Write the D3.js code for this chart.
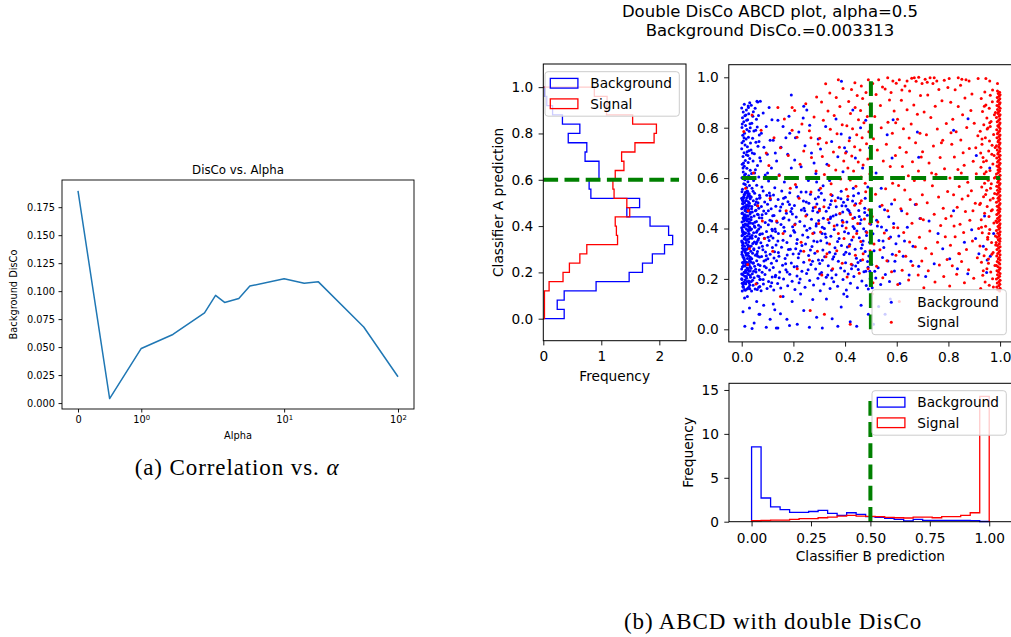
<!DOCTYPE html>
<html><head><meta charset="utf-8">
<script src="https://cdn.jsdelivr.net/npm/d3@7"></script>
<style>
body{margin:0;background:#fff}
svg text{fill:#000}
</style>
</head><body>
<svg id="fig" width="1011" height="637" font-family="DejaVu Sans"></svg>
<script>
// ---------------- data ----------------
// (a) background DisCo against the regularisation strength alpha
const alphaValues = [0, 0.5, 1, 1.5, 2, 2.5, 3, 4, 5, 10, 15, 20, 50, 100];
const discoValues = [0.1895, 0.004, 0.0488, 0.0613, 0.0806, 0.0962, 0.0899, 0.0935, 0.1045, 0.1110, 0.1070, 0.1083, 0.0680, 0.0235];
const alphaTicks = [0, 1, 10, 100];
const alphaTickBase = ["0", "10", "10", "10"];
const alphaTickExp = ["", "0", "1", "2"];
const discoTicks = [0, 0.025, 0.05, 0.075, 0.1, 0.125, 0.15, 0.175];

// (b) classifier A histogram (density, 25 bins over [0,1])
const binEdges = [0,0.04,0.08,0.12,0.16,0.2,0.24,0.28,0.32,0.36,0.4,0.44,0.48,0.52,0.56,0.6,0.64,0.68,0.72,0.76,0.8,0.84,0.88,0.92,0.96,1];
const histA_bg  = [0.36,0.24,0.36,0.91,1.48,1.71,1.88,2.09,2.23,2.16,1.84,1.44,1.66,0.82,0.79,0.96,0.96,0.72,0.75,0.43,0.63,0.33,0.16,0.06,0.03];
const histA_sig = [0.02,0.02,0.02,0.10,0.34,0.45,0.63,0.75,1.28,1.26,1.24,1.49,1.44,1.22,1.20,1.24,1.39,1.35,1.58,1.91,1.95,1.54,1.09,1.10,0.88];
// classifier B histogram (density, 25 bins over [0,1])
const histB_bg  = [8.52,2.70,1.68,1.38,1.06,1.06,1.16,1.28,0.95,0.72,1.02,0.83,0.57,0.49,0.38,0.27,0.08,0.27,0.15,0.15,0.15,0.15,0.15,0.13,0.02];
const histB_sig = [0.11,0.15,0.19,0.19,0.27,0.34,0.34,0.45,0.53,0.64,0.72,0.64,0.60,0.57,0.49,0.45,0.42,0.53,0.53,0.45,0.57,0.57,0.72,1.02,14.28];

const cutA = 0.6, cutB = 0.5;
const cutALineEnd = 2.34, cutBLineEnd = 14.3;
const freqTicksA = [0, 1, 2];
const freqTicksB = [0, 5, 10, 15];
const predTicks = [0, 0.2, 0.4, 0.6, 0.8, 1.0];
const predTicksB = [0, 0.25, 0.5, 0.75, 1.0];

// scatter: [classifier B, classifier A] in thousandths
const bgPoints = [
[2,152],[11,158],[24,163],[5,171],[31,176],[16,181],[8,187],[27,192],[1,198],[19,203],[34,207],[12,211],[4,216],[23,221],[9,226],[29,230],[15,234],[0,239],[21,243],[33,247],[7,252],[18,256],[26,261],[3,265],[13,269],[32,273],[10,277],[22,281],[6,286],[28,290],[17,294],[1,298],[25,302],[14,306],[35,310],[8,314],[20,318],[3,322],[30,326],[11,330],[24,334],[5,338],[16,342],[27,346],[0,350],[19,354],[9,358],[33,362],[13,366],[22,370],[4,374],[29,378],[15,382],[7,386],[26,390],[2,394],[18,398],[31,402],[10,406],[23,410],[6,414],[14,418],[34,422],[1,426],[21,430],[12,434],[28,438],[5,442],[17,446],[25,450],[9,454],[32,458],[3,462],[20,466],[13,470],[27,474],[0,478],[16,482],[8,486],[30,490],[22,494],[4,498],[11,502],[26,506],[15,510],[2,514],[33,518],[19,522],[7,526],[24,530],[10,534],[29,538],[14,542],[1,546],[21,549],
[14,155],[28,168],[6,179],[20,190],[0,201],[33,213],[12,224],[25,236],[3,248],[17,259],[30,271],[9,283],[22,295],[1,307],[15,319],[27,331],[5,343],[19,355],[32,367],[11,379],[24,391],[0,403],[16,415],[29,427],[7,439],[21,451],[34,463],[13,475],[26,487],[4,499],[18,511],[31,523],[10,535],[23,547],[2,183],[26,217],[12,251],[34,285],[7,319],[18,353],[3,387],[28,421],[13,455],[20,489],[8,523],[31,161],[17,228],[6,262],[23,336],[1,371],[30,406],[11,441],[25,476],[4,509],[15,544],
[6,167],[29,185],[13,196],[0,219],[24,241],[9,268],[31,279],[17,300],[3,333],[26,357],[12,362],[34,394],[7,409],[20,437],[1,460],[28,468],[16,491],[5,517],[23,539],[11,185],[33,232],[19,266],[2,345],[27,380],[8,430],[14,470],[30,500],[21,160],[4,292],[25,325],[10,447],[32,529],[18,210],[6,380],[22,415],[0,520],[29,255],[13,313],[3,482],[26,395],
[3,556],[19,563],[30,571],[8,578],[24,586],[12,593],[1,601],[27,609],[15,616],[6,624],[33,631],[20,639],[10,647],[2,655],[25,662],[14,670],[31,678],[5,686],[18,693],[9,701],[28,709],[0,716],[22,724],[13,731],[34,739],[7,747],[17,755],[26,762],[4,770],[11,778],[29,786],[20,793],[1,801],[15,809],[32,816],[8,824],[23,832],[3,839],[12,847],[27,855],[6,862],[18,870],[0,878],[25,886],[10,893],[31,899],[14,575],[5,640],[21,705],[9,760],[2,815],[28,600],[16,850],[24,690],[1,740],[33,800],[11,612],[19,830],[7,660],[26,880],
[38,152],[52,160],[66,167],[44,175],[59,183],[37,190],[70,198],[48,205],[62,212],[41,220],[55,227],[68,235],[36,242],[50,250],[64,257],[45,264],[58,272],[39,280],[69,287],[53,294],[42,302],[61,309],[47,316],[67,324],[37,331],[56,339],[49,346],[63,353],[40,361],[54,368],[70,376],[46,383],[60,391],[38,398],[51,405],[65,413],[43,420],[57,428],[36,435],[68,443],[48,450],[61,457],[41,465],[55,472],[66,480],[39,487],[52,495],[63,502],[45,510],[58,517],[37,525],[69,532],[50,540],[44,548],[60,158],[42,195],[67,210],[54,238],[36,266],[62,290],[47,320],[58,345],[40,372],[66,398],[51,425],[64,455],[38,478],[56,505],[69,520],[46,230],[59,300],[43,340],[65,360],[49,410],[37,445],[53,470],[61,490],[70,170],[44,262],[57,385],
[40,560],[58,572],[46,590],[66,604],[38,618],[53,633],[61,650],[44,668],[70,681],[49,697],[36,712],[63,726],[55,742],[42,758],[68,771],[47,787],[60,803],[39,818],[57,834],[65,848],[45,863],[52,877],[37,889],[62,902],[50,620],[41,700],[67,745],[54,790],[43,845],[59,905],
[75,153],[98,162],[112,171],[84,180],[104,190],[72,199],[118,208],[90,217],[79,226],[108,235],[95,244],[71,253],[115,262],[86,271],[101,280],[77,289],[110,298],[92,307],[82,316],[119,325],[99,334],[74,343],[106,352],[88,361],[113,370],[80,379],[96,388],[117,397],[73,406],[103,415],[91,424],[109,433],[78,442],[120,451],[94,460],[85,469],[114,478],[76,487],[100,496],[89,505],[111,514],[71,523],[97,532],[107,541],[83,549],[116,185],[93,275],[102,365],[79,455],[110,530],
[78,565],[104,588],[91,612],[115,640],[73,668],[99,695],[86,722],[110,750],[76,778],[95,805],[117,832],[83,858],[106,880],[72,905],[100,620],
[12,12],[48,25],[30,85],[70,60],[95,8],[22,130],[58,110],[85,95],[40,3],[110,40],[5,70],[67,60],[134,5],[11,124],
[124,156],[151,164],[178,173],[139,182],[195,191],[162,200],[130,209],[186,218],[147,227],[171,236],[122,245],[158,254],[192,263],[135,272],[168,281],[144,290],[199,299],[127,308],[181,317],[154,326],[133,335],[175,344],[160,353],[121,362],[189,371],[142,380],[166,389],[129,398],[197,407],[152,416],[137,425],[183,434],[164,443],[125,452],[173,461],[148,470],[194,479],[132,488],[158,497],[179,506],[141,515],[169,524],[123,533],[186,542],[155,549],[145,205],[176,295],[131,388],[190,467],[162,520],
[128,562],[165,585],[145,613],[192,640],[135,668],[178,695],[152,722],[122,750],[186,778],[160,805],[140,830],[197,600],[171,760],[130,700],[183,845],[192,930],
[140,5],[175,40],[128,78],[195,110],[160,130],[150,62],[185,15],[122,100],
[206,158],[245,167],[278,176],[222,185],[263,194],[295,203],[214,212],[251,221],[233,230],[286,239],[203,248],[268,257],[240,266],[297,275],[219,284],[259,293],[283,302],[228,311],[209,320],[272,329],[247,338],[292,347],[215,356],[256,365],[236,374],[280,383],[201,392],[264,401],[243,410],[289,419],[225,428],[270,437],[211,446],[252,455],[294,464],[231,473],[277,482],[204,491],[260,500],[239,509],[285,518],[218,527],[266,536],[249,545],[299,553],[226,200],[274,270],[213,340],[288,410],[241,480],
[212,565],[258,590],[287,618],[230,645],[205,672],[270,700],[245,728],[296,755],[221,783],[263,810],[238,838],[280,660],[208,760],[252,870],[290,585],[240,885],
[215,20],[262,8],[240,75],[290,48],[275,118],[228,140],
[304,153],[342,162],[371,171],[318,180],[356,189],[392,198],[327,207],[365,216],[309,225],[348,234],[383,243],[335,252],[302,261],[374,270],[352,279],[321,288],[396,297],[340,306],[314,315],[361,324],[386,333],[330,342],[306,351],[377,360],[345,369],[323,378],[398,387],[358,396],[312,405],[369,414],[338,423],[389,432],[316,441],[354,450],[380,459],[327,468],[301,477],[366,486],[343,495],[394,504],[320,513],[373,522],[350,531],[308,540],[385,548],[333,215],[362,300],[311,380],[391,465],[347,510],
[315,570],[358,598],[392,625],[330,655],[372,685],[305,715],[348,745],[385,775],[325,805],[365,835],[340,590],[398,720],[386,984],
[312,5],[350,42],[385,88],[328,120],[372,12],[395,140],
[405,156],[448,165],[482,174],[421,183],[465,192],[497,201],[434,210],[412,219],[473,228],[451,237],[489,246],[428,255],[402,264],[460,273],[444,282],[492,291],[417,300],[478,309],[439,318],[409,327],[467,336],[495,345],[426,354],[455,363],[483,372],[413,381],[446,390],[472,399],[431,408],[499,417],[407,426],[462,435],[437,444],[486,453],[419,462],[453,471],[476,480],[403,489],[441,498],[490,160],[425,240],[470,350],[458,420],[415,470],[480,230],
[83,198],[131,214],[176,227],[214,249],[257,236],[302,219],[349,204],[398,231],[441,251],[487,269],[95,292],[142,305],[188,318],[233,333],[279,350],[326,365],[371,348],[418,337],[463,322],[72,378],[119,391],[163,405],[207,418],[252,393],[298,432],[344,446],[389,411],[436,400],[481,388],[103,470],[151,485],[196,458],[244,470],[291,497],[337,482],[384,518],[429,509],[476,463],[88,250],[125,283],[170,260],[221,300],[266,315],[312,274],[356,288],[403,306],[450,265],[496,230],[116,430],[160,440],[205,385],[250,505],[297,525],[343,440],[388,490],[433,530],[478,520],[80,330],[140,350],[185,495],[230,545],[275,470],[320,400],[365,455],[410,475],[455,448],[500,300],
[410,515],[452,540],[488,565],[425,600],[468,640],[440,680],[495,720],[418,760],[460,800],[480,830],[432,560],[405,705],[430,870],
[420,30],[462,95],[445,12],[490,60],[408,130],
[505,165],[538,178],[572,190],[519,204],[556,217],[591,231],[528,244],[503,258],[566,271],[545,285],[583,298],[512,312],[550,325],[597,339],[531,352],[576,366],[508,379],[560,393],[541,406],[588,420],[522,433],[569,447],[501,460],[553,474],[535,487],[580,497],[515,230],[547,350],[593,270],[525,410],
[586,832],[563,772],[582,680],[540,560],[520,620],[530,90],[575,120],[555,60],[510,20],
[612,182],[648,215],[685,250],[625,290],[663,330],[608,370],[641,405],[690,440],[619,470],[672,495],[655,270],[630,350],[621,598],[680,783],[685,683],
[712,210],[745,260],[778,320],[805,280],[835,240],[862,345],[890,395],[918,300],[940,450],[725,430],[760,380],[820,470],[875,220],[905,360],[950,275],[876,836],[908,690],[820,790],[960,640],[935,330],[962,290],[975,380],[948,225]
];
const sigPoints = [
[998,152],[991,157],[1000,163],[987,168],[995,173],[999,179],[989,184],[996,189],[1000,195],[986,200],[993,205],[998,211],[990,216],[1000,221],[994,227],[988,232],[997,237],[1000,243],[992,248],[986,253],[999,259],[995,264],[989,269],[1000,275],[993,280],[997,285],[987,291],[1000,296],[991,301],[996,307],[999,312],[988,317],[994,323],[1000,328],[990,333],[997,339],[985,344],[999,349],[993,355],[1000,360],[989,365],[996,371],[998,376],[991,381],[1000,387],[986,392],[995,397],[999,403],[992,408],[997,413],[1000,419],[988,424],[994,429],[999,435],[990,440],[996,445],[1000,451],[987,456],[993,461],[998,467],[991,472],[1000,477],[995,483],[989,488],[997,493],[1000,499],[986,504],[994,509],[999,515],[992,520],[996,525],[1000,531],[988,536],[993,541],[998,547],[990,552],[1000,557],[995,563],[987,568],[997,573],[1000,579],[991,584],[994,589],[999,595],[989,600],[996,605],[1000,611],[986,616],[993,621],[998,627],[992,632],[1000,637],[995,643],[988,648],[997,653],[1000,659],[990,664],[994,669],[999,675],[987,680],[996,685],[1000,691],[991,696],[993,701],[998,707],[989,712],[1000,717],[995,723],[986,728],[997,733],[1000,739],[992,744],[994,749],[999,755],[988,760],[996,765],[1000,771],[990,776],[993,781],[998,787],[987,792],[1000,797],[995,803],[991,808],[997,813],[1000,819],[989,824],[994,829],[999,835],[986,840],[996,845],[1000,851],[992,856],[993,861],[998,867],[990,872],[1000,877],[995,883],[988,888],[997,893],[1000,899],[991,904],[994,909],[999,915],[989,920],[996,925],[1000,931],[993,936],[998,941],[990,946],
[925,162],[958,175],[942,188],[971,201],[933,214],[964,227],[949,240],[980,253],[928,266],[955,279],[938,292],[973,305],[946,318],[922,331],[967,344],[952,357],[982,370],[931,383],[960,396],[944,409],[976,422],[927,435],[957,448],[940,461],[970,474],[950,487],[924,500],[962,513],[936,526],[979,539],[948,552],[929,565],[966,578],[954,591],[983,604],[939,617],[961,630],[926,643],[972,656],[947,669],[934,682],[968,695],[956,708],[981,721],[930,734],[959,747],[943,760],[975,773],[923,786],[953,799],[937,812],[965,825],[949,838],[978,851],[932,864],[958,877],[945,890],[970,903],[927,916],[962,929],[941,942],[974,168],[935,232],[968,298],[952,365],[984,430],[921,495],[963,560],[946,625],[977,690],[930,755],[960,820],[939,885],[971,950],[955,262],[983,335],[928,405],[966,470],[944,535],[978,600],[936,665],[969,730],[950,795],[982,860],[925,700],[957,380],[940,580],[973,520],[962,805],[945,995],[960,985],[990,975],
[805,172],[862,185],[898,203],[832,218],[878,236],[815,252],[851,269],[912,284],[840,301],[870,317],[808,334],[893,350],[826,367],[859,384],[917,400],[845,417],[883,433],[811,450],[866,467],[834,484],[904,500],[853,517],[820,534],[889,550],[842,567],[875,584],[806,600],[908,617],[837,634],[861,651],[896,667],[823,684],[857,701],[881,717],[813,734],[848,751],[914,768],[830,784],[871,801],[900,818],[817,834],[855,851],[887,868],[838,884],[809,901],[864,918],[891,934],[826,951],[847,968],[880,985],[915,995],[803,995],[868,990],[822,410],[895,470],[850,620],[810,780],[906,720],[843,300],[876,530],[838,998],[852,992],
[705,165],[748,188],[782,210],[722,232],[765,255],[795,277],[735,300],[712,322],[758,345],[788,367],[728,390],[770,412],[703,435],[745,457],[780,480],[718,502],[762,525],[797,547],[738,570],[708,592],[752,615],[785,637],[725,660],[768,682],[700,705],[742,727],[778,750],[715,772],[757,795],[792,817],[732,840],[706,862],[749,885],[775,907],[720,930],[763,952],[740,975],[710,992],[784,988],[729,998],[755,985],[798,960],[773,740],[735,620],[790,440],[745,998],[718,980],
[604,178],[646,196],[683,215],[621,234],[662,253],[697,271],[635,290],[610,309],[672,328],[650,346],[688,365],[627,384],[604,403],[659,421],[693,440],[640,459],[616,478],[676,496],[652,515],[699,534],[631,553],[607,571],[668,590],[645,609],[684,628],[622,646],[661,665],[695,684],[637,703],[612,721],[673,740],[648,759],[690,778],[626,796],[656,815],[603,834],[680,853],[640,871],[666,890],[618,909],[692,928],[650,946],[632,965],[675,984],[658,996],[610,990],[685,1000],[640,985],[698,975],[620,950],[668,998],
[508,185],[546,205],[580,228],[522,250],[562,272],[597,294],[535,316],[512,338],[570,360],[552,382],[588,404],[527,426],[505,448],[565,470],[543,492],[592,514],[518,536],[557,558],[584,580],[532,602],[503,624],[575,646],[548,668],[595,690],[525,712],[560,734],[510,756],[583,778],[540,800],[566,822],[515,844],[590,866],[537,888],[572,910],[520,932],[555,954],[598,976],[530,990],[565,998],[585,985],[545,962],[507,975],[578,940],[596,820],
[405,556],[442,568],[478,580],[420,592],[462,604],[496,616],[433,628],[411,640],[470,652],[451,664],[488,676],[426,688],[402,700],[458,712],[437,724],[483,736],[416,748],[466,760],[445,772],[492,784],[429,796],[407,808],[473,820],[452,832],[486,844],[421,856],[460,868],[439,880],[494,892],[414,904],[468,916],[447,928],[481,940],[425,952],[463,965],[438,978],[490,990],
[408,208],[455,222],[489,240],[424,258],[468,276],[440,294],[497,312],[416,330],[461,348],[432,366],[484,384],[404,402],[449,420],[475,438],[421,456],[492,474],[437,492],[463,510],[411,528],[480,546],[445,380],[470,300],[430,440],[458,500],[495,420],
[305,560],[346,578],[383,596],[320,614],[364,632],[337,650],[395,668],[312,686],[355,704],[378,722],[328,740],[302,758],[369,776],[343,794],[389,812],[316,830],[358,848],[334,866],[380,884],[309,902],[366,920],[341,938],[392,956],[325,974],[374,990],
[310,215],[352,240],[389,262],[326,288],[368,312],[340,338],[396,360],[305,386],[358,410],[334,436],[380,460],[318,486],[362,510],[345,535],[392,425],[301,470],[374,380],[330,300],
[208,575],[252,602],[288,628],[226,655],[270,682],[240,708],[296,735],[214,762],[262,788],[233,815],[280,842],[205,868],[248,895],[290,922],[268,760],
[215,240],[262,275],[293,310],[230,345],[275,380],[205,415],[248,450],[285,485],[222,520],[268,545],[240,310],[298,420],
[110,520],[145,610],[180,690],[125,760],[165,835],[195,880],[135,430],[172,470],[105,650],[150,720],[188,560],[120,310],[160,380],[195,790],[140,880],
[8,785],[25,470],[45,620],[62,490],[80,430],[95,700],[30,320],[55,180],[75,790],[15,560],[88,360],[40,850],[23,257],
[320,60],[420,20],[505,140],[265,75],[150,130],[610,110]
];

// ---------------- drawing ----------------
const svg = d3.select("#fig");
const FONT = "DejaVu Sans";
const SERIF = "'Liberation Serif', serif";

function styleAxis(g, size) {
  g.attr("font-family", FONT).attr("font-size", size);
  g.select(".domain").remove();
  g.selectAll(".tick line").attr("stroke", "#000").attr("stroke-width", 0.9);
  g.selectAll(".tick text").attr("fill", "#000");
}
function frame(x0, y0, x1, y1, w) {
  svg.append("rect").attr("x", x0).attr("y", y0).attr("width", x1 - x0).attr("height", y1 - y0)
    .attr("fill", "none").attr("stroke", "#000").attr("stroke-width", w);
}
function label(x, y, text, size, opts = {}) {
  const t = svg.append("text").attr("x", x).attr("y", y).attr("font-size", size)
    .attr("text-anchor", opts.anchor || "middle").text(text);
  if (opts.rotate) t.attr("transform", `rotate(-90,${x},${y})`);
  return t;
}

// ===== (a) DisCo vs. Alpha, symmetric-log x axis (linthresh 2) =====
const linthresh = 2, linscaleAdj = 1 / (1 - 1 / 10);
const symlog = v => v <= linthresh ? v * linscaleAdj : linthresh * (linscaleAdj + Math.log10(v / linthresh));
const A = {l: 62, r: 414, t: 180, b: 409};
const xa = d3.scaleLinear().domain([-0.281, 5.901]).range([A.l, A.r]);
const ya = d3.scaleLinear().domain([-0.0053, 0.1993]).range([A.b, A.t]);

svg.append("path")
  .datum(alphaValues.map((a, i) => [symlog(a), discoValues[i]]))
  .attr("fill", "none").attr("stroke", "#1f77b4").attr("stroke-width", 1.5).attr("stroke-linejoin", "round")
  .attr("d", d3.line().x(d => xa(d[0])).y(d => ya(d[1])));

svg.append("g").attr("transform", `translate(0,${A.b})`)
  .call(d3.axisBottom(xa).tickValues(alphaTicks.map(symlog)).tickSize(3.5).tickPadding(3.5)
    .tickFormat((d, i) => alphaTickBase[i]))
  .call(g => styleAxis(g, 9.8))
  .call(g => g.selectAll(".tick text").each(function (d, i) {
    if (alphaTickExp[i]) d3.select(this).append("tspan").attr("dy", "-0.45em").attr("font-size", "70%").text(alphaTickExp[i]);
  }));
svg.append("g").attr("transform", `translate(${A.l},0)`)
  .call(d3.axisLeft(ya).tickValues(discoTicks).tickSize(3.5).tickPadding(3.5).tickFormat(d3.format(".3f")))
  .call(g => styleAxis(g, 9.8));
frame(A.l, A.t, A.r, A.b, 0.9);
label((A.l + A.r) / 2, 174, "DisCo vs. Alpha", 11.8);
label((A.l + A.r) / 2, 439, "Alpha", 9.8);
label(17, (A.t + A.b) / 2, "Background DisCo", 9.8, {rotate: true});
const capA = svg.append("text").attr("x", 237).attr("y", 475).attr("text-anchor", "middle")
  .style("font-family", SERIF).style("letter-spacing", "0.9px").attr("font-size", 23);
capA.append("tspan").text("(a) Correlation vs. ");
capA.append("tspan").attr("font-style", "italic").text("\u03b1");

// ===== (b) ABCD panels =====
label(770, 17, "Double DisCo ABCD plot, alpha=0.5", 16.5);
label(770, 35.5, "Background DisCo.=0.003313", 16.5);

const BLUE = "#0000ff", RED = "#ff0000", GREEN = "#008000";
const TS = 13.7;
const dash = "14.8,6.4";

// --- classifier A histogram (horizontal) ---
const H = {l: 543.3, r: 686, t: 64, b: 340.7};
const xh = d3.scaleLinear().domain([0, 2.46]).range([H.l, H.r]);
const yh = d3.scaleLinear().domain([-0.095, 1.1]).range([H.b, H.t]);
function stepsH(vals) {
  const pts = [[0, binEdges[0]]];
  vals.forEach((v, i) => { pts.push([v, binEdges[i]], [v, binEdges[i + 1]]); });
  pts.push([0, binEdges[binEdges.length - 1]]);
  return pts;
}
const lineH = d3.line().x(d => xh(d[0])).y(d => yh(d[1]));
svg.append("path").datum(stepsH(histA_bg)).attr("d", lineH).attr("fill", "none").attr("stroke", BLUE).attr("stroke-width", 1.3);
svg.append("path").datum(stepsH(histA_sig)).attr("d", lineH).attr("fill", "none").attr("stroke", RED).attr("stroke-width", 1.3);
svg.append("path").datum([[0, cutA], [cutALineEnd, cutA]]).attr("d", lineH)
  .attr("fill", "none").attr("stroke", GREEN).attr("stroke-width", 4).attr("stroke-dasharray", dash);
svg.append("g").attr("transform", `translate(0,${H.b})`)
  .call(d3.axisBottom(xh).tickValues(freqTicksA).tickSize(4.7).tickPadding(5.4).tickFormat(d3.format("d")))
  .call(g => styleAxis(g, TS));
svg.append("g").attr("transform", `translate(${H.l},0)`)
  .call(d3.axisLeft(yh).tickValues(predTicks).tickSize(4.7).tickPadding(5.4).tickFormat(d3.format(".1f")))
  .call(g => styleAxis(g, TS));
frame(H.l, H.t, H.r, H.b, 1);
label((H.l + H.r) / 2, 381, "Frequency", TS);
label(503, (H.t + H.b) / 2, "Classifier A prediction", TS, {rotate: true});

// --- scatter ---
const S = {l: 728.8, r: 1013, t: 64.7, b: 341.9};
const xs = d3.scaleLinear().domain([-0.05, 1.05]).range([S.l, S.r]);
const ys = d3.scaleLinear().domain([-0.05, 1.05]).range([S.b, S.t]);
const scat = svg.append("g");
scat.selectAll("circle.bg").data(bgPoints).join("circle").attr("class", "bg")
  .attr("cx", d => xs(d[0] / 1000)).attr("cy", d => ys(d[1] / 1000)).attr("r", 1.5).attr("fill", BLUE);
scat.selectAll("circle.sig").data(sigPoints).join("circle").attr("class", "sig")
  .attr("cx", d => xs(d[0] / 1000)).attr("cy", d => ys(d[1] / 1000)).attr("r", 1.5).attr("fill", RED);
const lineS = d3.line().x(d => xs(d[0])).y(d => ys(d[1]));
svg.append("path").datum([[0, cutA], [1, cutA]]).attr("d", lineS)
  .attr("fill", "none").attr("stroke", GREEN).attr("stroke-width", 4).attr("stroke-dasharray", dash);
svg.append("path").datum([[cutB, 0], [cutB, 1]]).attr("d", lineS)
  .attr("fill", "none").attr("stroke", GREEN).attr("stroke-width", 4).attr("stroke-dasharray", dash);
svg.append("g").attr("transform", `translate(0,${S.b})`)
  .call(d3.axisBottom(xs).tickValues(predTicks).tickSize(4.7).tickPadding(5.4).tickFormat(d3.format(".1f")))
  .call(g => styleAxis(g, TS));
svg.append("g").attr("transform", `translate(${S.l},0)`)
  .call(d3.axisLeft(ys).tickValues(predTicks).tickSize(4.7).tickPadding(5.4).tickFormat(d3.format(".1f")))
  .call(g => styleAxis(g, TS));
frame(S.l, S.t, S.r, S.b, 1);

// --- classifier B histogram ---
const B = {l: 729, r: 1011.8, t: 383.3, b: 521.7};
const xb = d3.scaleLinear().domain([-0.095, 1.095]).range([B.l, B.r]);
const yb = d3.scaleLinear().domain([0, 15.76]).range([B.b, B.t]);
function stepsV(vals) {
  const pts = [[binEdges[0], 0]];
  vals.forEach((v, i) => { pts.push([binEdges[i], v], [binEdges[i + 1], v]); });
  pts.push([binEdges[binEdges.length - 1], 0]);
  return pts;
}
const lineB = d3.line().x(d => xb(d[0])).y(d => yb(d[1]));
svg.append("path").datum(stepsV(histB_bg)).attr("d", lineB).attr("fill", "none").attr("stroke", BLUE).attr("stroke-width", 1.3);
svg.append("path").datum(stepsV(histB_sig)).attr("d", lineB).attr("fill", "none").attr("stroke", RED).attr("stroke-width", 1.3);
svg.append("path").datum([[cutB, 0], [cutB, cutBLineEnd]]).attr("d", lineB)
  .attr("fill", "none").attr("stroke", GREEN).attr("stroke-width", 4).attr("stroke-dasharray", dash);
svg.append("g").attr("transform", `translate(0,${B.b})`)
  .call(d3.axisBottom(xb).tickValues(predTicksB).tickSize(4.7).tickPadding(6.4).tickFormat(d3.format(".2f")))
  .call(g => styleAxis(g, TS));
svg.append("g").attr("transform", `translate(${B.l},0)`)
  .call(d3.axisLeft(yb).tickValues(freqTicksB).tickSize(4.7).tickPadding(5.4).tickFormat(d3.format("d")))
  .call(g => styleAxis(g, TS));
frame(B.l, B.t, B.r, B.b, 1);
label((B.l + B.r) / 2, 561, "Classifier B prediction", TS);
label(693, (B.t + B.b) / 2, "Frequency", TS, {rotate: true});

// --- legends ---
function legendBox(x, y, w, h) {
  svg.append("rect").attr("x", x).attr("y", y).attr("width", w).attr("height", h).attr("rx", 3)
    .attr("fill", "#fff").attr("fill-opacity", 0.8).attr("stroke", "#cccccc").attr("stroke-width", 1);
}
const legendNames = ["Background", "Signal"];
const legendColors = [BLUE, RED];
function patchLegend(x, y) {
  legendBox(x, y, 134.3, 44.5);
  legendNames.forEach((n, i) => {
    const cy = y + 11.6 + i * 20.5;
    svg.append("rect").attr("x", x + 5.3).attr("y", cy - 4.9).attr("width", 27.6).attr("height", 9.7)
      .attr("fill", "none").attr("stroke", legendColors[i]).attr("stroke-width", 1.3);
    label(x + 45.3, cy + 5, n, TS, {anchor: "start"});
  });
}
patchLegend(545, 71.7);
patchLegend(872, 390.7);
legendBox(872, 289.7, 134.3, 45);
legendNames.forEach((n, i) => {
  const cy = 302.3 + i * 19.9;
  svg.append("circle").attr("cx", 891.3).attr("cy", cy).attr("r", 1.5).attr("fill", legendColors[i]);
  label(917.3, cy + 5, n, TS, {anchor: "start"});
});

svg.append("text").attr("x", 773).attr("y", 629).attr("text-anchor", "middle")
  .style("font-family", SERIF).style("letter-spacing", "0.9px").attr("font-size", 23)
  .text("(b) ABCD with double DisCo");
</script>
</body></html>
